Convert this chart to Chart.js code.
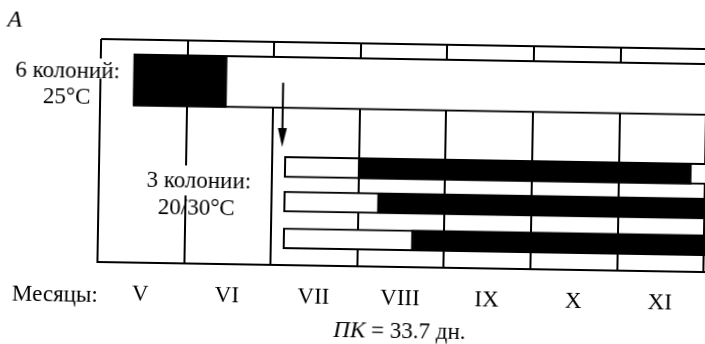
<!DOCTYPE html>
<html lang="ru">
<head>
<meta charset="utf-8">
<title>ПК = 33.7 дн.</title>
<script src="https://cdn.jsdelivr.net/npm/chart.js@4.4.1/dist/chart.umd.min.js"></script>
<style>
  html, body { margin: 0; padding: 0; background: #fff; overflow: hidden; width: 705px; height: 344px; }
  /* the scanned figure sits about one degree off level */
  #wrap { width: 720px; height: 344px; transform: rotate(0.95deg); transform-origin: 400px 170px; }
</style>
</head>
<body>
<div id="wrap"><canvas id="chart" width="720" height="344"></canvas></div>
<script>
// x axis: 0 = start of May (V), one unit = one month
const MONTHS = ['V', 'VI', 'VII', 'VIII', 'IX', 'X', 'XI'];
const X_MAX = 7.17;          // the frame runs on past the right edge

// rows, counted from the top of the frame
const ROW_SIX = 1.13;
const ROWS_THREE = [3.5, 4.47, 5.5];
const Y_MAX = 6.25;

// 6 колоний, 25°C
const SIX_START = 0.38;
const SIX_DARK_END = 1.46;

// 3 колонии, 20/30°C
const THREE_START = [2.14, 2.14, 2.14];
const THREE_DARK_START = [2.99, 3.22, 3.62];
const THREE_DARK_END = [6.84, X_MAX, X_MAX];

// transfer arrow
const ARROW_X = 2.11;
const ARROW_FROM = 1.14;
const ARROW_TO = 2.94;

const FONT = 'Liberation Serif';
Chart.defaults.font.family = FONT;
Chart.defaults.color = '#000';

// --- texts and the arrow, drawn over the bars ---
function putText(ctx, text, x, y, align, font, mask) {
    ctx.font = font;
    ctx.textAlign = align;
    ctx.textBaseline = 'alphabetic';
    if (mask) {
        const w = ctx.measureText(text).width;
        const left = align === 'center' ? x - w / 2 : (align === 'right' ? x - w : x);
        ctx.fillStyle = '#fff';
        ctx.fillRect(left - 1, y - mask[0], w + 2, mask[0] + mask[1]);
    }
    ctx.fillStyle = '#000';
    ctx.fillText(text, x, y);
}

const annotations = {
    id: 'annotations',
    afterDatasetsDraw(chart) {
        const { ctx, scales: { x, y } } = chart;
        ctx.save();

        // arrow
        const ax = x.getPixelForValue(ARROW_X);
        const ay0 = y.getPixelForValue(ARROW_FROM);
        const ay1 = y.getPixelForValue(ARROW_TO);
        ctx.strokeStyle = '#000';
        ctx.fillStyle = '#000';
        ctx.lineWidth = 2;
        ctx.beginPath();
        ctx.moveTo(ax, ay0);
        ctx.lineTo(ax, ay1 - 12);
        ctx.stroke();
        ctx.beginPath();
        ctx.moveTo(ax - 4.5, ay1 - 19);
        ctx.lineTo(ax + 4.5, ay1 - 19);
        ctx.lineTo(ax, ay1);
        ctx.closePath();
        ctx.fill();

        const big = '23px "' + FONT + '"';
        putText(ctx, 'A', 5, 33, 'left', 'italic 24px "' + FONT + '"');
        putText(ctx, '6 колоний:', 66, 82.5, 'center', big, [19, 1]);
        putText(ctx, '25°C', 65.5, 108.5, 'center', big);
        putText(ctx, '3 колонии:', 199, 191, 'center', big, [22, 8]);
        putText(ctx, '20/30°C', 197, 218, 'center', big);
        putText(ctx, 'Месяцы:', 14, 307, 'left', big);

        // ПК = 33.7 дн., centred under the frame
        const cx = x.getPixelForValue(3.5);
        ctx.font = 'italic ' + big;
        const w1 = ctx.measureText('ПК').width;
        ctx.font = big;
        const w2 = ctx.measureText(' = 33.7 дн.').width;
        const left = cx - (w1 + w2) / 2;
        putText(ctx, 'ПК', left, 338, 'left', 'italic ' + big);
        putText(ctx, ' = 33.7 дн.', left + w1, 338, 'left', big);

        ctx.restore();
    }
};

const sixLight = [{ y: ROW_SIX, x: [SIX_START, X_MAX] }];
const sixDark = [{ y: ROW_SIX, x: [SIX_START, SIX_DARK_END] }];
const threeLight = ROWS_THREE.map((r, i) => ({ y: r, x: [THREE_START[i], X_MAX] }));
const threeDark = ROWS_THREE.map((r, i) => ({ y: r, x: [THREE_DARK_START[i], THREE_DARK_END[i]] }));

const barStyle = { borderColor: '#000', borderWidth: 2, borderSkipped: false, stack: 'rows' };

new Chart(document.getElementById('chart'), {
    type: 'bar',
    data: {
        datasets: [
            { label: '6 колоний', data: sixDark, backgroundColor: '#000', barThickness: 52, order: 0, ...barStyle },
            { label: '3 колонии', data: threeDark, backgroundColor: '#000', barThickness: 21, order: 0, ...barStyle },
            { label: '6 колоний', data: sixLight, backgroundColor: '#fff', barThickness: 52, order: 1, ...barStyle },
            { label: '3 колонии', data: threeLight, backgroundColor: '#fff', barThickness: 21, order: 1, ...barStyle }
        ]
    },
    options: {
        indexAxis: 'y',
        responsive: false,
        animation: false,
        layout: { padding: { left: 99, top: 44, right: 0, bottom: 0 } },
        plugins: { legend: { display: false }, tooltip: { enabled: false } },
        scales: {
            x: {
                type: 'linear',
                min: 0,
                max: X_MAX,
                stacked: false,
                offset: false,
                afterBuildTicks: s => { s.ticks = MONTHS.map((m, i) => ({ value: i + 0.5 })); },
                afterFit: s => { s.height = 77; },
                ticks: {
                    callback: (v, i) => MONTHS[i],
                    font: { size: 23 },
                    color: '#000',
                    padding: 18,
                    maxRotation: 0,
                    autoSkip: false
                },
                grid: { offset: true, color: '#000', lineWidth: 2, drawTicks: false },
                border: { display: true, color: '#000', width: 2 }
            },
            y: {
                type: 'linear',
                reverse: true,
                min: 0,
                max: Y_MAX,
                offset: false,
                afterBuildTicks: s => { s.ticks = [{ value: 0 }]; },
                afterFit: s => { s.width = 0; },
                ticks: { display: false },
                grid: { offset: false, color: '#000', lineWidth: 2, drawTicks: false },
                border: { display: false }
            }
        }
    },
    plugins: [annotations]
});
</script>
</body>
</html>
